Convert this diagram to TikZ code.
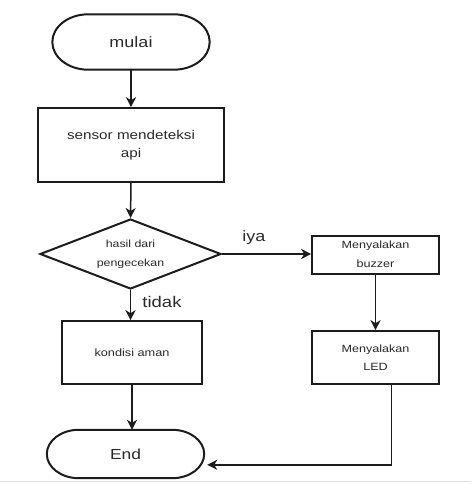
\documentclass[tikz,border=0pt]{standalone}
\usepackage{fontspec}
\setmainfont[FakeStretch=1.2]{Liberation Sans}
\usetikzlibrary{shapes.geometric,arrows.meta,calc}
\definecolor{lineclr}{HTML}{1C1C1C}
\definecolor{txtclr}{HTML}{2A2A2A}
% #1 node, #2 end width, #3 control x offset from corner, #4 control y offset from mid
\newcommand\myterm[4]{%
  \draw[draw=lineclr,line width=2pt]
    ([xshift=#2]#1.north west) -- ([xshift=-#2]#1.north east)
    .. controls ([xshift=-#3]#1.north east) and ([yshift=#4]#1.east) .. (#1.east)
    .. controls ([yshift=-#4]#1.east) and ([xshift=-#3]#1.south east) .. ([xshift=-#2]#1.south east)
    -- ([xshift=#2]#1.south west)
    .. controls ([xshift=#3]#1.south west) and ([yshift=-#4]#1.west) .. (#1.west)
    .. controls ([yshift=#4]#1.west) and ([xshift=#3]#1.north west) .. cycle;}
\begin{document}
\begin{tikzpicture}[x=1pt,y=-1pt,
  term/.style={minimum width=157pt,inner sep=0pt,text=txtclr},
  procbox/.style={draw=lineclr,line width=1.6pt,inner sep=0pt,align=center,text=txtclr,fill=white},
  decision/.style={diamond,draw=lineclr,line width=2pt,inner sep=0pt,aspect=2.6,minimum width=181pt,minimum height=70pt,align=center,text=txtclr},
  conn/.style={draw=lineclr,line width=1.5pt,-{Stealth[length=10pt,width=10pt,inset=3pt]}},
  lbl/.style={text=txtclr,inner sep=0pt}]
\useasboundingbox (0,0) rectangle (471,484);
\fill[white] (0,0) rectangle (471,484);
\draw[gray!25,line width=1pt] (0,481.5) -- (471,481.5);

\node[term,minimum height=55pt,font=\fontsize{15}{18}\selectfont] (start) at (131,42) {mulai};
\myterm{start}{36pt}{16pt}{15.2pt}
\node[procbox,minimum width=186pt,minimum height=74pt,font=\fontsize{12.7}{18}\selectfont] (sensor) at (131,145) {sensor mendeteksi\\api};
\node[decision,font=\fontsize{10.3}{19}\selectfont] (dec) at (130.5,254) {hasil dari\\pengecekan};
\node[procbox,minimum width=140pt,minimum height=63pt,font=\fontsize{10.6}{13}\selectfont] (aman) at (132,352.5) {kondisi aman};
\node[term,minimum height=48pt,font=\fontsize{14.5}{17}\selectfont] (end) at (125.5,454) {End};
\myterm{end}{32pt}{14.3pt}{13.3pt}
\node[procbox,minimum width=127pt,minimum height=38pt,font=\fontsize{10.5}{19}\selectfont] (buzz) at (375.5,255) {\raisebox{2.5pt}{Menyalakan}\\\raisebox{2.5pt}{buzzer}};
\node[procbox,minimum width=127pt,minimum height=53pt,font=\fontsize{10.5}{18}\selectfont] (led) at (375.5,357.5) {\raisebox{-1.5pt}{Menyalakan}\\\raisebox{-1.5pt}{LED}};

\node[lbl,font=\fontsize{15.4}{18}\selectfont] (tidak) at (162,302) {tidak};
\node[lbl,font=\fontsize{15}{18}\selectfont] (iya) at (254,238) {iya};

\draw[conn] (start.south) -- (sensor.north);
\draw[conn] (sensor.south) -- (dec.north);
\draw[conn] (dec.south) -- (dec.south |- aman.north);
\draw[conn] (aman.south) -- (aman.south |- end.north);
\draw[conn] (dec.east) -- (dec.east -| buzz.west);
\draw[conn] (buzz.south) -- (buzz.south |- led.north);
\coordinate (ledout) at ([xshift=16pt]led.south);
\coordinate (corner) at ($(ledout)+(0,80)$);
\draw[conn] (ledout) -- (corner) -- ([xshift=3pt]end.east |- corner);
\end{tikzpicture}
\end{document}
